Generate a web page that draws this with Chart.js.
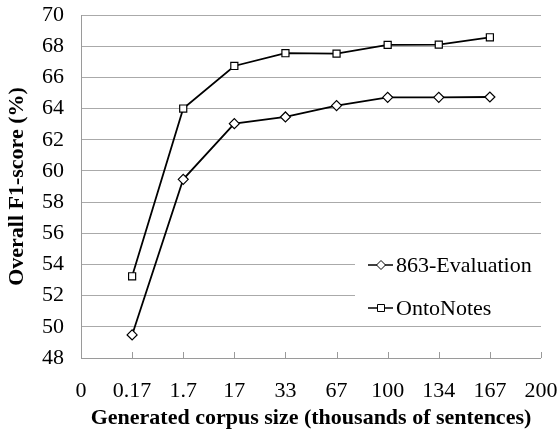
<!DOCTYPE html>
<html>
<head>
<meta charset="utf-8">
<script src="https://cdn.jsdelivr.net/npm/chart.js@4.4.1/dist/chart.umd.min.js"></script>
<style>
  html, body { margin: 0; padding: 0; background: #fff; }
  #wrap { width: 559px; height: 435px; }
</style>
</head>
<body>
<div id="wrap"><canvas id="f1Chart"></canvas></div>
<script>
// corpus sizes (thousands of sentences), first and last are axis ends only
const sizeLabels = ["0", "0.17", "1.7", "17", "33", "67", "100", "134", "167", "200"];
const evalScores = [null, 49.48, 59.46, 63.03, 63.46, 64.19, 64.72, 64.72, 64.74, null];
const ontoScores = [null, 53.24, 64.0, 66.73, 67.55, 67.52, 68.08, 68.1, 68.57, null];
const yTicks = [48, 50, 52, 54, 56, 58, 60, 62, 64, 66, 68, 70];

const serif = "Liberation Serif";
Chart.defaults.font.family = serif;

// x axis tick marks point up into the plot
const innerTicks = {
    id: "innerTicks",
    afterDatasetsDraw(chart) {
        const ctx = chart.ctx;
        const x = chart.scales.x;
        const bottom = chart.chartArea.bottom;
        ctx.save();
        ctx.strokeStyle = "#9a9a9a";
        ctx.lineWidth = 1;
        x.ticks.forEach((t, i) => {
            const px = Math.round(x.getPixelForTick(i)) + 0.5;
            ctx.beginPath();
            ctx.moveTo(px, bottom - 6);
            ctx.lineTo(px, bottom);
            ctx.stroke();
        });
        ctx.beginPath();
        ctx.moveTo(chart.chartArea.left, bottom + 0.5);
        ctx.lineTo(chart.chartArea.right, bottom + 0.5);
        ctx.stroke();
        ctx.restore();
    }
};

// legend sits inside the plot on a white box
const boxLegend = {
    id: "boxLegend",
    afterDraw(chart) {
        const ctx = chart.ctx;
        const area = chart.chartArea;
        ctx.save();
        ctx.fillStyle = "#fff";
        ctx.fillRect(355, 246, area.right - 355, 72);
        ctx.font = "22px '" + serif + "'";
        ctx.textBaseline = "middle";
        const rows = [265, 308];
        chart.data.datasets.forEach((ds, i) => {
            const y = rows[i];
            ctx.strokeStyle = "#000";
            ctx.lineWidth = 1.5;
            ctx.beginPath();
            ctx.moveTo(368, y);
            ctx.lineTo(393, y);
            ctx.stroke();
            ctx.fillStyle = "#fff";
            ctx.lineWidth = 1;
            ctx.beginPath();
            if (ds.pointStyle === "rectRot") {
                ctx.moveTo(381, y - 4.5);
                ctx.lineTo(385.5, y);
                ctx.lineTo(381, y + 4.5);
                ctx.lineTo(376.5, y);
                ctx.closePath();
            } else {
                ctx.rect(377.5, y - 3.5, 7, 7);
            }
            ctx.fill();
            ctx.stroke();
            ctx.fillStyle = "#000";
            ctx.fillText(ds.label, 396, y + 1);
        });
        ctx.restore();
    }
};

function drawChart() {
    const ctx = document.getElementById("f1Chart").getContext("2d");
    new Chart(ctx, {
        type: "line",
        data: {
            labels: sizeLabels,
            datasets: [{
                label: "863-Evaluation",
                data: evalScores,
                borderColor: "#000",
                borderWidth: 1.8,
                pointStyle: "rectRot",
                pointRadius: 5,
                pointBackgroundColor: "#fff",
                pointBorderColor: "#000",
                pointBorderWidth: 1.2,
                tension: 0
            }, {
                label: "OntoNotes",
                data: ontoScores,
                borderColor: "#000",
                borderWidth: 1.8,
                pointStyle: "rect",
                pointRadius: 5,
                pointBackgroundColor: "#fff",
                pointBorderColor: "#000",
                pointBorderWidth: 1.2,
                tension: 0
            }]
        },
        options: {
            responsive: true,
            maintainAspectRatio: false,
            animation: false,
            layout: { padding: 0 },
            plugins: {
                legend: { display: false },
                tooltip: { enabled: false }
            },
            scales: {
                x: {
                    type: "category",
                    offset: false,
                    afterFit: s => {
                        s.height = 77;
                        s.paddingLeft = 0;
                        s.paddingRight = 18;
                    },
                    grid: { display: false, drawTicks: false },
                    border: { display: false },
                    ticks: {
                        padding: 20,
                        color: "#000",
                        maxRotation: 0,
                        autoSkip: false,
                        font: { family: serif, size: 22 }
                    },
                    title: {
                        display: true,
                        text: "Generated corpus size (thousands of sentences)",
                        color: "#000",
                        padding: { top: 0, bottom: 3 },
                        font: { family: serif, size: 22, weight: "bold" }
                    }
                },
                y: {
                    min: 48,
                    max: 70,
                    afterFit: s => {
                        s.width = 81;
                        s.paddingTop = 15;
                        s.paddingBottom = 0;
                    },
                    afterBuildTicks: s => { s.ticks = yTicks.map(v => ({ value: v })); },
                    grid: { color: "#aaaaaa", drawTicks: false, lineWidth: 1 },
                    border: { display: true, color: "#9a9a9a" },
                    ticks: {
                        padding: 17,
                        autoSkip: false,
                        color: "#000",
                        font: { family: serif, size: 22 }
                    },
                    title: {
                        display: true,
                        text: "Overall F1-score (%)",
                        color: "#000",
                        padding: { top: 4, bottom: 0 },
                        font: { family: serif, size: 22, weight: "bold" }
                    }
                }
            }
        },
        plugins: [innerTicks, boxLegend]
    });
}

Promise.all([
    document.fonts.load("22px 'Liberation Serif'"),
    document.fonts.load("bold 22px 'Liberation Serif'")
]).then(drawChart, drawChart);
</script>
</body>
</html>
